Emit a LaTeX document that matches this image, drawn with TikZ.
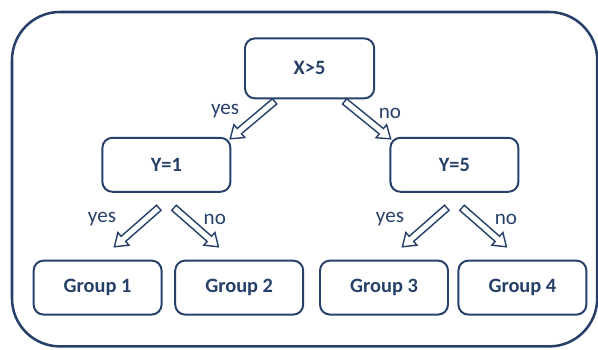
\documentclass[tikz,border=0pt]{standalone}
\usepackage{fontspec}
\setmainfont{Carlito}
\usepackage{xcolor}
\usepackage{tikz}
\usetikzlibrary{calc}
\definecolor{navy}{RGB}{38,64,105}
\tikzstyle{box} = [draw=navy, line width=1.4pt, rounded corners=0.25cm, minimum width=3.2cm, minimum height=1.35cm, text=navy, font=\fontsize{14.5}{17}\selectfont\bfseries]
\tikzstyle{lbl} = [text=navy, font=\fontsize{15}{18}\selectfont]
\tikzstyle{hollow} = [draw=navy, line width=1pt, fill=white, line join=miter]

\newcommand{\hollowarrow}[2]{%
	\coordinate (hc) at ($(#2)!0.3cm!(#1)$);
	\draw [hollow] ($(#1)!0.085cm!90:(#2)$) -- ($(hc)!0.085cm!-90:(#1)$) -- ($(hc)!0.21cm!-90:(#1)$) -- (#2) -- ($(hc)!0.21cm!90:(#1)$) -- ($(hc)!0.085cm!90:(#1)$) -- ($(#1)!0.085cm!-90:(#2)$) -- cycle;}

\begin{document}
\begin{tikzpicture}[node distance=2.41cm]
	\useasboundingbox (0,0) rectangle (14.95,8.75);
	\draw [draw=navy, line width=1.8pt, rounded corners=1.2cm] (0.3,0.09) rectangle (14.93,8.45);

	\node (xgt) [box, minimum width=3.23cm, minimum height=1.5cm] at (7.74,7.04) {X>5};
	\node (y1) [box, below of=xgt, xshift=-3.58cm] {Y=1};
	\node (y5) [box, below of=xgt, xshift=3.62cm] {Y=5};
	\node (g1) [box, below of=y1, yshift=-0.66cm, xshift=-1.72cm] {Group 1};
	\node (g2) [box, below of=y1, yshift=-0.66cm, xshift=1.82cm] {Group 2};
	\node (g3) [box, below of=y5, yshift=-0.66cm, xshift=-1.76cm] {Group 3};
	\node (g4) [box, below of=y5, yshift=-0.66cm, xshift=1.70cm] {Group 4};

	% arrow ends
	\coordinate (xgt-yes) at ($(xgt.south)+(-0.875,-0.05)$);
	\coordinate (xgt-no) at ($(xgt.south)+(0.875,-0.05)$);
	\coordinate (y1-in) at ($(y1.north east)+(-0.03,-0.05)$);
	\coordinate (y5-in) at ($(y5.north west)+(0.03,-0.05)$);
	\coordinate (y1-yes) at ($(y1.south)+(-0.19,-0.375)$);
	\coordinate (y1-no) at ($(y1.south)+(0.19,-0.375)$);
	\coordinate (g1-in) at ($(y1.south)+(-1.3,-1.35)$);
	\coordinate (g2-in) at ($(y1.south)+(1.3,-1.35)$);
	\coordinate (y5-yes) at ($(y5.south)+(-0.19,-0.375)$);
	\coordinate (y5-no) at ($(y5.south)+(0.19,-0.375)$);
	\coordinate (g3-in) at ($(y5.south)+(-1.3,-1.35)$);
	\coordinate (g4-in) at ($(y5.south)+(1.3,-1.35)$);

	\hollowarrow{xgt-yes}{y1-in}
	\hollowarrow{xgt-no}{y5-in}
	\hollowarrow{y1-yes}{g1-in}
	\hollowarrow{y1-no}{g2-in}
	\hollowarrow{y5-yes}{g3-in}
	\hollowarrow{y5-no}{g4-in}

	\node (lyes0) [lbl] at ($(xgt.south)+(-2.11,-0.3)$) {yes};
	\node (lno0) [lbl] at ($(xgt.south)+(2.01,-0.35)$) {no};
	\node (lyes1) [lbl] at ($(y1.south)+(-1.61,-0.66)$) {yes};
	\node (lno1) [lbl] at ($(y1.south)+(1.21,-0.66)$) {no};
	\node (lyes2) [lbl] at ($(y5.south)+(-1.61,-0.66)$) {yes};
	\node (lno2) [lbl] at ($(y5.south)+(1.29,-0.66)$) {no};
\end{tikzpicture}
\end{document}
